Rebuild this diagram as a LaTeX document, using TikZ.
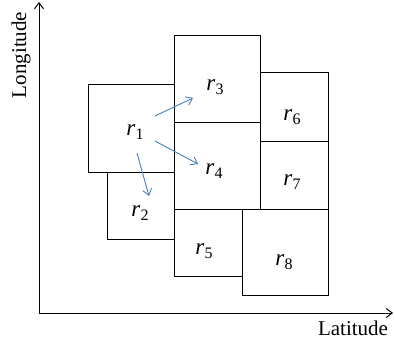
\documentclass[tikz,border=0pt]{standalone}
\usepackage{fontspec}
\setmainfont{Liberation Serif}
\usetikzlibrary{arrows.meta}
\definecolor{arrblue}{HTML}{4A7EBB}
\tikzset{
  box/.style={draw=black, line width=1pt, inner sep=0pt, outer sep=0pt},
  lbl/.style={inner sep=0pt, font=\fontsize{21}{23}\selectfont},
  rlbl/.style={inner sep=0pt, font=\fontsize{23}{25}\selectfont},
  axis/.style={line width=1pt, -{Straight Barb[length=6pt,width=9pt]}},
  link/.style={draw=arrblue, line width=0.9pt, -{Straight Barb[length=6pt,width=9pt]}}
}
\newcommand{\rl}[1]{\textit{r}\raisebox{-0.35ex}{\fontsize{16}{18}\selectfont #1}}
\begin{document}
\begin{tikzpicture}[x=1pt,y=-1pt]
\useasboundingbox (0,0) rectangle (394,345);
% boxes
\node[box, minimum width=86pt, minimum height=87pt] (b1) at (131,128.5) {};
\node[box, minimum width=67pt, minimum height=67pt] (b2) at (140.5,205.5) {};
\node[box, minimum width=86pt, minimum height=87pt] (b3) at (217,79.5) {};
\node[box, minimum width=86pt, minimum height=86pt] (b4) at (217,166) {};
\node[box, minimum width=68pt, minimum height=67pt] (b5) at (208,242.5) {};
\node[box, minimum width=68pt, minimum height=68pt] (b6) at (294,107) {};
\node[box, minimum width=68pt, minimum height=68pt] (b7) at (294,175) {};
\node[box, minimum width=86pt, minimum height=86pt] (b8) at (285,252) {};
% labels
\node[rlbl] (l1) at (135,132) {\rl{1}};
\node[rlbl] (l2) at (140,213) {\rl{2}};
\node[rlbl] (l3) at (215,87) {\rl{3}};
\node[rlbl] (l4) at (214,171) {\rl{4}};
\node[rlbl] (l5) at (204,251) {\rl{5}};
\node[rlbl] (l6) at (292,117) {\rl{6}};
\node[rlbl] (l7) at (292,182) {\rl{7}};
\node[rlbl] (l8) at (284,262) {\rl{8}};
% axes
\coordinate (o) at (39,313);
\coordinate (ytip) at (39,2);
\coordinate (xtip) at (393,313);
\draw[axis] (o) -- (ytip);
\draw[axis] (o) -- (xtip);
\node[lbl, rotate=90] (lon) at (21,55) {Longitude};
\node[lbl] (lat) at (353,328) {Latitude};
% arrows
\coordinate (a3s) at (155,116);
\coordinate (a3e) at (193,98);
\coordinate (a4s) at (155,141);
\coordinate (a4e) at (198,164);
\coordinate (a2s) at (137,153);
\coordinate (a2e) at (149,196);
\draw[link] (a3s) -- (a3e);
\draw[link] (a4s) -- (a4e);
\draw[link] (a2s) -- (a2e);
\end{tikzpicture}
\end{document}
